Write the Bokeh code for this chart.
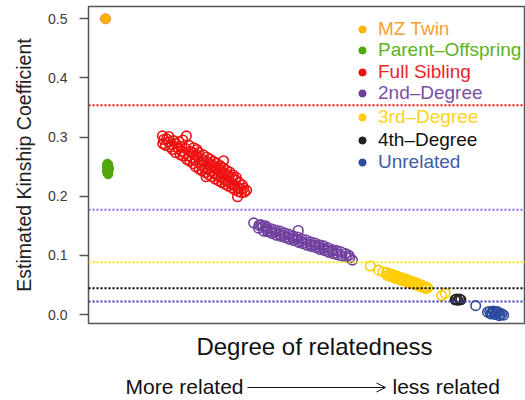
from bokeh.plotting import figure
from bokeh.layouts import column
from bokeh.models import (Span, Label, Arrow, OpenHead, Legend, LegendItem,
                          FixedTicker, Range1d, PrintfTickFormatter)
from bokeh.embed import file_html
from bokeh.resources import INLINE

FONT = "Liberation Sans"

# ---------------- data ----------------
categories = ["MZ Twin", "Parent\u2013Offspring", "Full Sibling", "2nd\u2013Degree",
              "3rd\u2013Degree", "4th\u2013Degree", "Unrelated"]
point_colors = ["#FFB300", "#4FA80C", "#EE1111", "#6F3F9E", "#FFCC00", "#222222", "#2B4A9C"]
text_colors = ["#F5A032", "#5BB325", "#E8262B", "#7A4FA3", "#FFD21F", "#111111", "#3E5DA8"]

mz_x = [3.9]
mz_y = [0.500]

po_x = [4.3, 4.5, 4.6, 4.2, 4.4, 4.7, 4.2, 4.5, 4.3, 4.5, 4.4]
po_y = [0.255, 0.254, 0.250, 0.251, 0.248, 0.246, 0.244, 0.242, 0.239, 0.237, 0.245]

fs_x = [16.9, 17.2, 17.0, 17.9, 17.6, 18.4, 18.7, 18.3, 19.2, 19.5, 19.1, 20.1, 19.9, 20.3,
        20.7, 21.0, 20.6, 21.4, 21.7, 21.3, 21.6, 22.4, 22.2, 22.5, 22.1, 23.0, 23.2, 22.9,
        23.4, 23.8, 24.0, 23.7, 24.1, 24.5, 24.7, 24.4, 24.8, 25.3, 25.1, 25.5, 25.2, 26.0,
        26.2, 25.9, 26.3, 26.8, 27.0, 26.7, 27.1, 26.9, 27.5, 27.7, 27.4, 27.8, 28.3, 28.5,
        28.2, 28.6, 29.0, 29.2, 28.9, 29.3, 29.8, 30.0, 29.7, 30.1, 30.5, 30.7, 30.4, 30.8,
        30.9, 31.3, 31.5, 31.2, 31.6, 32.0, 32.2, 31.9, 32.3, 32.8, 33.0, 32.7, 33.1, 33.5,
        33.7, 33.4, 33.8, 34.3, 34.5, 34.2, 34.1, 35.0, 35.2, 34.9, 35.7, 35.5, 36.2]
fs_y = [0.302, 0.296, 0.289, 0.297, 0.286, 0.301, 0.283, 0.292, 0.279, 0.294, 0.287, 0.289,
        0.274, 0.283, 0.292, 0.270, 0.280, 0.284, 0.268, 0.276, 0.295, 0.302, 0.281, 0.262,
        0.272, 0.286, 0.259, 0.268, 0.276, 0.273, 0.255, 0.265, 0.282, 0.250, 0.270, 0.261,
        0.279, 0.246, 0.266, 0.257, 0.274, 0.243, 0.262, 0.252, 0.270, 0.240, 0.259, 0.249,
        0.266, 0.233, 0.236, 0.255, 0.246, 0.263, 0.233, 0.252, 0.242, 0.259, 0.229, 0.248,
        0.238, 0.256, 0.226, 0.245, 0.235, 0.252, 0.223, 0.241, 0.232, 0.248, 0.260, 0.220,
        0.238, 0.228, 0.244, 0.217, 0.234, 0.225, 0.241, 0.214, 0.231, 0.221, 0.236, 0.211,
        0.227, 0.218, 0.232, 0.208, 0.223, 0.214, 0.199, 0.206, 0.219, 0.212, 0.207, 0.214,
        0.210]

sd_x = [37.8, 39.4, 40.5, 38.9, 39.0, 39.9, 40.1, 40.8, 41.0, 40.7, 41.8, 42.0, 41.7, 42.8,
        43.0, 42.7, 43.8, 44.0, 43.7, 44.8, 45.0, 44.7, 45.8, 46.0, 45.7, 46.8, 47.0, 46.7,
        48.0, 47.8, 48.1, 47.7, 48.8, 49.0, 48.7, 49.8, 50.0, 49.7, 50.8, 51.0, 50.7, 51.8,
        52.0, 51.7, 52.8, 53.0, 52.7, 53.8, 54.0, 53.7, 54.8, 55.0, 54.7, 55.8, 56.0, 55.7,
        56.8, 57.0, 56.7, 57.8, 58.0, 58.8, 59.0, 59.6, 59.8, 60.4]
sd_y = [0.155, 0.152, 0.150, 0.146, 0.151, 0.149, 0.141, 0.147, 0.140, 0.144, 0.145, 0.137,
        0.141, 0.143, 0.134, 0.139, 0.141, 0.132, 0.136, 0.138, 0.130, 0.134, 0.136, 0.127,
        0.131, 0.133, 0.125, 0.129, 0.142, 0.131, 0.122, 0.127, 0.128, 0.120, 0.124, 0.126,
        0.117, 0.121, 0.123, 0.115, 0.119, 0.121, 0.113, 0.117, 0.118, 0.110, 0.114, 0.116,
        0.108, 0.112, 0.113, 0.105, 0.109, 0.110, 0.103, 0.107, 0.108, 0.101, 0.104, 0.106,
        0.099, 0.103, 0.098, 0.100, 0.096, 0.092]

td_x = [64.5, 66.4, 67.4, 68.2, 68.4, 69.0, 69.2, 68.9, 69.8, 70.0, 69.7, 70.6, 70.8, 70.5,
        71.4, 71.6, 71.3, 72.2, 72.4, 72.1, 73.0, 73.2, 72.9, 73.8, 74.0, 73.7, 74.6, 74.8,
        74.5, 75.4, 75.6, 75.3, 76.2, 76.4, 77.0, 77.2, 77.6, 80.8, 81.6]
td_y = [0.082, 0.075, 0.072, 0.071, 0.066, 0.069, 0.064, 0.067, 0.067, 0.062, 0.065, 0.065,
        0.060, 0.063, 0.063, 0.058, 0.061, 0.061, 0.056, 0.059, 0.059, 0.054, 0.057, 0.056,
        0.052, 0.055, 0.055, 0.050, 0.052, 0.052, 0.048, 0.050, 0.050, 0.046, 0.047, 0.044,
        0.045, 0.032, 0.036]

fd_x = [83.9, 84.5, 85.2, 84.2, 84.9]
fd_y = [0.025, 0.024, 0.025, 0.026, 0.026]

un_x = [88.6, 91.3, 91.8, 92.3, 92.0, 92.8, 93.3, 93.0, 93.8, 94.2, 94.6, 94.0, 95.0, 92.6, 93.6]
un_y = [0.015, 0.004, 0.005, 0.003, 0.001, 0.004, 0.002, 0.000, 0.003, 0.000, 0.001, -0.002,
        -0.001, 0.006, 0.005]

thresholds = [0.354, 0.177, 0.0884, 0.0442, 0.0221]
threshold_colors = ["#FF1010", "#8A6BE0", "#F2E600", "#000000", "#3A3AA8"]

y_ticks = [0.0, 0.1, 0.2, 0.3, 0.4, 0.5]

x_title = "Degree of relatedness"
caption_left = "More related"
caption_right = "less related"

# ---------------- main figure ----------------
p = figure(width=525, height=325, output_backend="svg", toolbar_location=None,
           x_range=Range1d(0, 100), y_range=Range1d(-0.0152, 0.5208),
           min_border_left=88, min_border_right=0, min_border_top=6, min_border_bottom=2)
p.grid.visible = False
p.outline_line_color = "#555555"
p.outline_line_width = 1.5
p.xaxis.visible = False

ax = p.yaxis[0]
ax.ticker = FixedTicker(ticks=y_ticks)
ax.formatter = PrintfTickFormatter(format="%.1f")
ax.axis_line_color = None
ax.major_tick_out = 9
ax.major_tick_in = 0
ax.major_tick_line_color = "#555555"
ax.major_tick_line_width = 1.5
ax.minor_tick_line_color = None
ax.major_label_standoff = 12
ax.major_label_text_font = FONT
ax.major_label_text_font_size = "14px"
ax.major_label_text_color = "#3a3a3a"
ax.axis_label = "Estimated Kinship Coefficient"
ax.axis_label_text_font = FONT
ax.axis_label_text_font_size = "19.5px"
ax.axis_label_text_font_style = "normal"
ax.axis_label_text_color = "#222222"
ax.axis_label_standoff = 10

for t, c in zip(thresholds, threshold_colors):
    p.add_layout(Span(location=t, dimension="width", line_color=c,
                      line_dash="2 2", line_width=2))

# points
p.scatter(mz_x, mz_y, size=10, fill_color=point_colors[0], line_color="#F08A30", line_width=1)
p.scatter(po_x, po_y, size=9, fill_color=point_colors[1], line_color=point_colors[1], line_width=1)
groups = [(fs_x, fs_y), (sd_x, sd_y), (td_x, td_y), (fd_x, fd_y), (un_x, un_y)]
for (gx, gy), col in zip(groups, point_colors[2:]):
    p.scatter(gx, gy, size=9.5, fill_color=None, line_color=col, line_width=1.6)

# legend: one per entry so each label gets its own colour.
# legend swatches: hidden copies of each group's first point, drawn filled
firsts = [(mz_x, mz_y), (po_x, po_y)] + groups
row_centers = [29, 50, 72, 93, 117, 140, 162]
frame_bottom = 323
for name, pc, tc, rc, (gx, gy) in zip(categories, point_colors, text_colors, row_centers, firsts):
    r = p.scatter(gx[:1], gy[:1], size=7, fill_color=pc, line_color=pc, visible=False)
    leg = Legend(items=[LegendItem(label=name, renderers=[r])],
                 location=(265, frame_bottom - rc - 11),
                 border_line_color=None, background_fill_alpha=0,
                 padding=0, margin=0, spacing=0,
                 glyph_width=18, glyph_height=18, label_height=22,
                 label_standoff=7, label_text_font=FONT,
                 label_text_font_size="19px", label_text_color=tc)
    p.add_layout(leg)

# ---------------- caption strip below (coordinates = page pixels) ----------------
c = figure(width=525, height=75, output_backend="svg", toolbar_location=None,
           x_range=Range1d(88, 525), y_range=Range1d(400, 325),
           x_axis_type=None, y_axis_type=None,
           min_border_left=88, min_border_right=0, min_border_top=0, min_border_bottom=0)
c.grid.visible = False
c.outline_line_color = None
c.add_layout(Label(x=314, y=346, text=x_title, text_align="center", text_baseline="middle",
                   text_font=FONT, text_font_size="24px", text_color="#111111"))
c.add_layout(Label(x=243, y=386, text=caption_left, text_align="right", text_baseline="middle",
                   text_font=FONT, text_font_size="21px", text_color="#111111"))
c.add_layout(Label(x=392, y=386, text=caption_right, text_align="left", text_baseline="middle",
                   text_font=FONT, text_font_size="21px", text_color="#111111"))
c.add_layout(Arrow(x_start=247, y_start=387, x_end=385, y_end=387,
                   line_width=1, line_color="#111111",
                   end=OpenHead(size=9, line_width=1, line_color="#111111")))

layout = column(p, c, spacing=0)
open("out.html", "w").write(file_html(layout, INLINE))
